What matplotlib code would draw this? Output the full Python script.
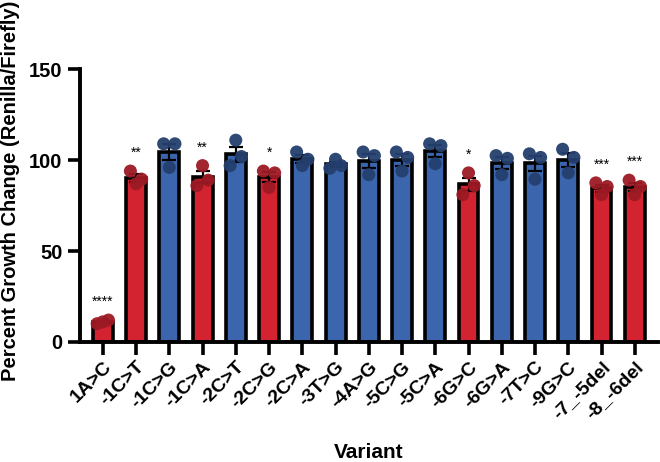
import numpy as np
import matplotlib
matplotlib.use("Agg")
import matplotlib.pyplot as plt

plt.rcParams["font.family"] = ["Liberation Sans", "DejaVu Sans"]
plt.rcParams["font.weight"] = "bold"

variants = ["1A>C", "-1C>T", "-1C>G", "-1C>A", "-2C>T", "-2C>G", "-2C>A", "-3T>G",
            "-4A>G", "-5C>G", "-5C>A", "-6G>C", "-6G>A", "-7T>C", "-9G>C",
            "-7_-5del", "-8_-6del"]
# three replicates per variant
reps = [
    [10, 12, 11],
    [94, 89.5, 87],
    [109, 109, 96],
    [86, 89, 97],
    [97, 102, 111],
    [94, 93, 85],
    [104.5, 100.5, 97],
    [95.5, 97, 100.5],
    [104.5, 102.5, 92],
    [104.5, 101.5, 94],
    [109, 108, 98],
    [81, 86, 93],
    [102.5, 101, 92],
    [103.5, 101.5, 89.5],
    [106, 101.5, 93],
    [87.5, 85.5, 81],
    [89, 85.5, 81],
]
significant = [True, True, False, True, False, True, False, False, False, False,
               False, True, False, False, False, True, True]
stars = ["****", "**", "", "**", "", "*", "", "", "", "", "", "*", "", "", "", "***", "***"]

red, red_dot = "#d42330", "#9c1a24"
blue, blue_dot = "#3b66ae", "#243f6e"

data = np.array(reps)
means = data.mean(axis=1)
sem = data.std(axis=1, ddof=1) / np.sqrt(data.shape[1])
x = np.arange(len(variants))

fig = plt.figure(figsize=(6.6, 4.62), dpi=100)
ax = fig.add_axes([0.121, 0.26, 0.876, 0.59])

colors = [red if s else blue for s in significant]
dots = [red_dot if s else blue_dot for s in significant]
ax.bar(x, means, width=0.6, color=colors, edgecolor="black", linewidth=2.6, zorder=2)
ax.errorbar(x, means, yerr=sem, fmt="none", ecolor="black", elinewidth=1.6,
            capsize=5, capthick=1.6, zorder=3)
offs = [-0.17, 0.17, 0.0]
for i in range(len(variants)):
    ax.scatter(x[i] + np.array(offs), data[i], s=88, color=dots[i],
               edgecolor="none", alpha=0.95, zorder=4)
    if stars[i]:
        ax.text(x[i], data[i].max() + 10, stars[i], ha="center", va="center",
                fontsize=10, fontweight="normal")

ax.set_ylim(0, 150)
ax.set_yticks([0, 50, 100, 150])
ax.set_xlim(-0.69, 16.7)
ax.set_xticks(x)
ax.set_xticklabels(variants, rotation=45, ha="right", va="top", rotation_mode="anchor",
                   fontsize=14, fontweight="bold")
for lbl in ax.get_yticklabels():
    lbl.set_fontsize(14.5)
    lbl.set_fontweight("bold")
ax.tick_params(axis="both", width=2.6, length=9)
ax.tick_params(axis="x", pad=3)
for s in ["top", "right"]:
    ax.spines[s].set_visible(False)
for s in ["left", "bottom"]:
    ax.spines[s].set_linewidth(2.8)

ax.set_ylabel("Percent Growth Change (Renilla/Firefly)", fontsize=14.5, fontweight="bold")
ax.yaxis.set_label_coords(-0.104, 0.553)
ax.set_xlabel("Variant", fontsize=15, fontweight="bold")
ax.xaxis.set_label_coords(0.5, -0.37)

fig.savefig("out.png", dpi=100)
